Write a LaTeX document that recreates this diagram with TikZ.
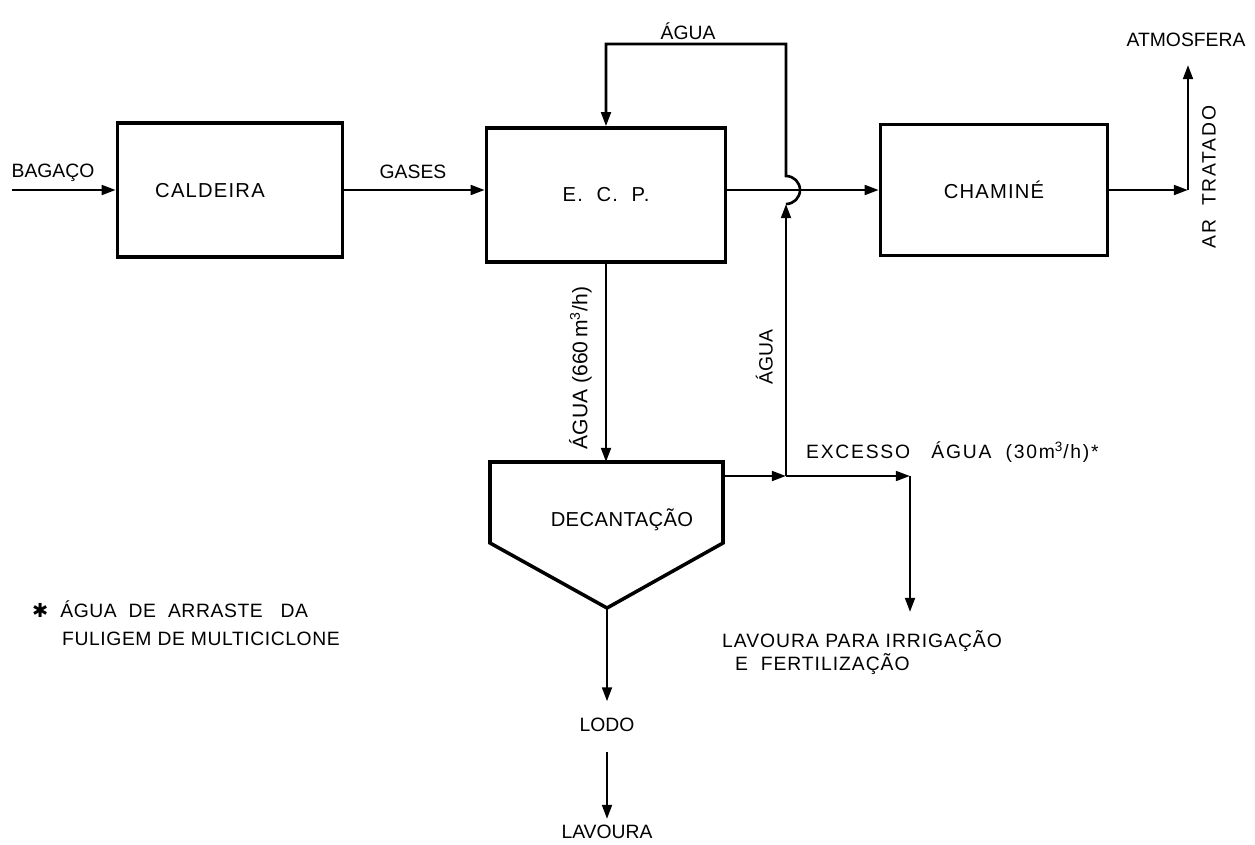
\documentclass[tikz,border=0pt]{standalone}
\usepackage{fontspec}
\setmainfont{Liberation Sans}
\newfontfamily\symfont{DejaVu Sans}
\usetikzlibrary{arrows.meta,positioning}

\begin{document}
\begin{tikzpicture}[
  x=0.02cm, y=-0.02cm,
  font=\fontsize{11}{13}\selectfont,
  unit/.style={draw, line width=2pt, minimum width=4.5cm,
               minimum height=2.68cm},
  unitfont/.style={font=\fontsize{11.5}{13}\selectfont\addfontfeatures{LetterSpace=6}},
  flow/.style={line width=1.5pt},
  wide/.style={font=\fontsize{11}{13}\selectfont\addfontfeatures{LetterSpace=5}},
  >={Triangle[length=8pt,width=5.5pt]}
]
\useasboundingbox (0,0) rectangle (1255,845);

%% --- equipamentos ---
\node[unit] (cald) at (230,190) {};
\node[unitfont] (caldtxt) at (210,191) {CALDEIRA};
\node[unit, unitfont, minimum width=4.78cm] (ecp) at (606,195) {E.\ \ C.\ \ P.};
\node[unit, unitfont, minimum width=4.54cm, minimum height=2.62cm] (cham) at (994,190) {CHAMINÉ};

%% --- decantador ---
\coordinate (dtl) at (490,462);
\coordinate (dtr) at (723,462);
\coordinate (dr) at (723,543);
\coordinate (dbot) at (607,608);
\coordinate (dl) at (490,543);
\draw[line width=2pt, line join=miter] (dtl) -- (dtr) -- (dr) -- (dbot) -- (dl) -- cycle;
\node[font=\fontsize{11.5}{13}\selectfont\addfontfeatures{LetterSpace=2}] (dec) at (622,520) {DECANTAÇÃO};

%% --- entrada e gases ---
\coordinate (bagin) at (12,190);
\draw[flow, ->] (bagin) -- (cald.west);
\node (bag) at (53,173) {BAGAÇO};
\draw[flow, ->] (cald.east) -- (cald.east -| ecp.west);
\node (gas) at (413,172) {GASES};

%% --- saida do E.C.P. com salto ---
\coordinate (hopbot) at (786,204);
\coordinate (loopR) at (786,44);
\coordinate (loopL) at (606,44);
\draw[flow, ->] (ecp.east |- cham.west) -- (cham.west);
\draw[flow, ->] (hopbot) arc[start angle=90, end angle=-90, radius=14]
  -- (loopR) -- (loopL) -- (ecp.north);
\node (aguatop) at (688,31) {ÁGUA};

%% --- chamine para atmosfera ---
\coordinate (atmc) at (1188,190);
\coordinate (atmtop) at (1188,65);
\draw[flow, ->] (cham.east) -- (atmc);
\draw[flow, ->] (atmc) -- (atmtop);
\node (atm) at (1186,40) {ATMOSFERA};
\node[rotate=90, font=\fontsize{11}{13}\selectfont\addfontfeatures{LetterSpace=9}] (ar) at (1209,177) {AR\ \ TRATADO};

%% --- agua para decantacao ---
\draw[flow, ->] (ecp.south) -- (ecp.south |- dtl);
\node[rotate=90, anchor=south, font=\fontsize{12}{14}\selectfont] (agua660) at (598,368)
  {ÁGUA (660\,m\textsuperscript{3}/h)};

%% --- retorno e excesso ---
\coordinate (decR) at (723,476);
\coordinate (junc) at (786,476);
\coordinate (excend) at (910,476);
\coordinate (irrtop) at (910,612);
\draw[flow, ->] (decR) -- (junc);
\draw[flow, ->] (junc) -- (excend);
\draw[flow, ->] (excend) -- (irrtop);
\draw[flow, ->] (junc) -- (hopbot);
\node[rotate=90, anchor=south] (aguaret) at (779,357) {ÁGUA};
\node[anchor=west, font=\fontsize{11}{13}\selectfont\addfontfeatures{LetterSpace=9}] (exc) at (800,452)
  {EXCESSO\ \ \ ÁGUA\ \ (30m\textsuperscript{3}/h)*};
\node[anchor=north west, align=left,
      font=\fontsize{11}{13.5}\selectfont\addfontfeatures{LetterSpace=5}] (irrig) at (716,624)
  {LAVOURA\ PARA IRRIGAÇÃO\\\hspace{0.26cm}E\ \ FERTILIZAÇÃO};

%% --- lodo ---
\node (lodo) at (607,725) {LODO};
\node (lav) at (607,832) {LAVOURA};
\draw[flow, ->, shorten >=6pt] (dbot) -- (lodo.north);
\draw[flow, ->, shorten <=8pt] (lodo.south) -- (lav.north);

%% --- nota ---
\node[anchor=north west, align=left,
      font=\fontsize{11}{15.5}\selectfont\addfontfeatures{LetterSpace=3}] (nota) at (26,595)
  {{\symfont ✱}\ \ ÁGUA\ \ DE\ \ ARRASTE\ \ \ DA\\\hspace{0.6cm}FULIGEM DE MULTICICLONE};
\end{tikzpicture}
\end{document}
